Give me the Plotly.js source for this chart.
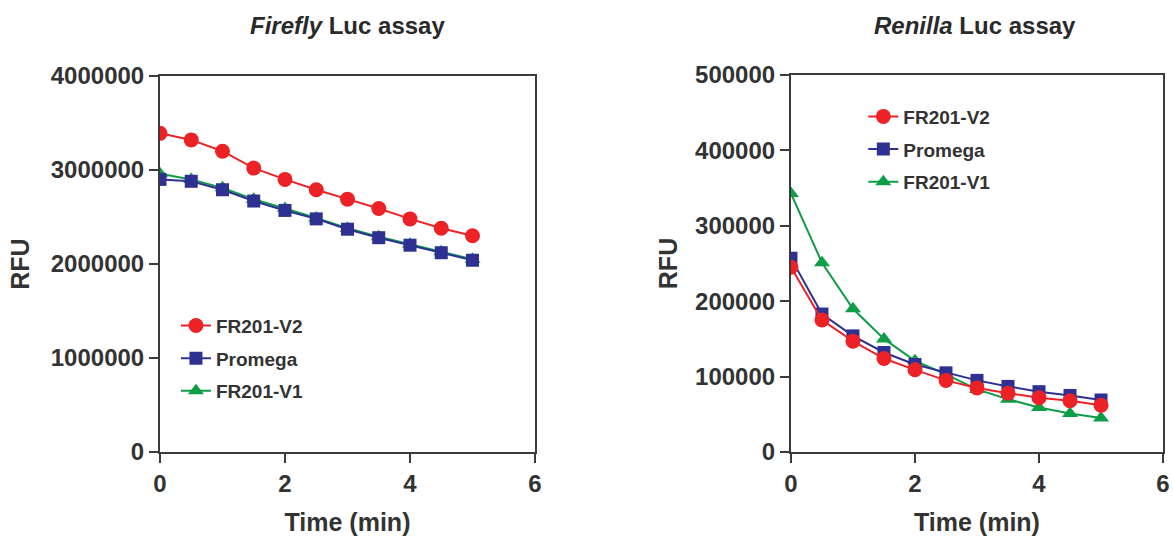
<!DOCTYPE html>
<html>
<head>
<meta charset="utf-8">
<script src="https://cdn.plot.ly/plotly-3.0.1.min.js"></script>
<style>html,body{margin:0;padding:0;background:#fff;}#chart{width:1173px;height:536px;}</style>
</head>
<body>
<div id="chart"></div>
<script>
const time = [0, 0.5, 1, 1.5, 2, 2.5, 3, 3.5, 4, 4.5, 5];
const seriesNames = ["FR201-V2", "Promega", "FR201-V1"];

const fireflyV2 = [3390000, 3320000, 3200000, 3020000, 2900000, 2790000, 2690000, 2590000, 2480000, 2380000, 2300000];
const fireflyPromega = [2900000, 2880000, 2790000, 2670000, 2570000, 2480000, 2370000, 2280000, 2200000, 2120000, 2040000];
const fireflyV1 = [2960000, 2900000, 2810000, 2690000, 2590000, 2490000, 2380000, 2290000, 2210000, 2130000, 2050000];

const renillaV2 = [245000, 175000, 147000, 124000, 109000, 95000, 85000, 78000, 72000, 68000, 62000];
const renillaPromega = [257000, 183000, 154000, 132000, 116000, 105000, 95000, 87000, 80000, 75000, 69000];
const renillaV1 = [343000, 251000, 190000, 150000, 121000, 103000, 83000, 70000, 59000, 51000, 45000];

const xTicks = [0, 2, 4, 6];
const fireflyTicks = [0, 1000000, 2000000, 3000000, 4000000];
const renillaTicks = [0, 100000, 200000, 300000, 400000, 500000];

const red = "#ec2227", blue = "#2e3192", green = "#0f9d48";
const FONT = "Liberation Sans, Arial, sans-serif";

function mk(name, y, color, symbol, size, rank, xa, ya, leg) {
  return {
    x: time, y: y, name: name, type: "scatter", mode: "lines+markers",
    xaxis: xa, yaxis: ya, legend: leg, legendrank: rank, legendgroup: leg + "-" + name,
    line: {color: color, width: 2},
    marker: {color: color, symbol: symbol, size: size, line: {width: 0}}
  };
}

const data = [
  mk(seriesNames[2], fireflyV1, green, "triangle-up", 14, 3, "x", "y", "legend"),
  mk(seriesNames[1], fireflyPromega, blue, "square", 13, 2, "x", "y", "legend"),
  mk(seriesNames[0], fireflyV2, red, "circle", 15, 1, "x", "y", "legend"),
  mk(seriesNames[2], renillaV1, green, "triangle-up", 14, 3, "x2", "y2", "legend2"),
  mk(seriesNames[1], renillaPromega, blue, "square", 13, 2, "x2", "y2", "legend2"),
  mk(seriesNames[0], renillaV2, red, "circle", 15, 1, "x2", "y2", "legend2")
];

const axisCommon = {
  showgrid: false, zeroline: false, showline: true, linecolor: "#3b3b3b", linewidth: 2,
  mirror: true, ticks: "outside", ticklen: 9, tickwidth: 2, tickcolor: "#3b3b3b",
  tickfont: {family: FONT, size: 24, color: "#333", weight: "bold"}
};
const titleFont = {family: FONT, size: 25, color: "#333", weight: "bold"};
const legendCommon = {
  font: {family: FONT, size: 19, color: "#333", weight: "bold"},
  bgcolor: "rgba(0,0,0,0)", traceorder: "grouped", tracegroupgap: 5,
  xanchor: "left", yanchor: "top"
};

const layout = {
  width: 1173, height: 536,
  margin: {l: 0, r: 0, t: 0, b: 0},
  paper_bgcolor: "#fff", plot_bgcolor: "#fff",
  showlegend: true,
  xaxis: Object.assign({}, axisCommon, {domain: [0.1364, 0.4561], range: [0, 6], tickvals: xTicks, anchor: "y",
    title: {text: "Time (min)", font: titleFont}}),
  yaxis: Object.assign({}, axisCommon, {domain: [0.1567, 0.8582], range: [0, 4000000], tickvals: fireflyTicks, tickformat: "d", anchor: "x",
    title: {text: "RFU", font: titleFont, standoff: 14}}),
  xaxis2: Object.assign({}, axisCommon, {domain: [0.6743, 0.9915], range: [0, 6], tickvals: xTicks, anchor: "y2",
    title: {text: "Time (min)", font: titleFont}}),
  yaxis2: Object.assign({}, axisCommon, {domain: [0.1567, 0.8601], range: [0, 500000], tickvals: renillaTicks, tickformat: "d", anchor: "x2",
    title: {text: "RFU", font: titleFont, standoff: 10}}),
  legend: Object.assign({}, legendCommon, {x: 0.150, y: 0.428}),
  legend2: Object.assign({}, legendCommon, {x: 0.736, y: 0.818}),
  annotations: [
    {text: "<i>Firefly</i> Luc assay", xref: "paper", yref: "paper", x: 0.296, y: 0.952, xanchor: "center", yanchor: "middle",
     showarrow: false, font: {family: FONT, size: 24, color: "#2a2a2a", weight: "bold"}},
    {text: "<i>Renilla</i> Luc assay", xref: "paper", yref: "paper", x: 0.831, y: 0.952, xanchor: "center", yanchor: "middle",
     showarrow: false, font: {family: FONT, size: 24, color: "#2a2a2a", weight: "bold"}}
  ]
};

Plotly.newPlot("chart", data, layout, {displayModeBar: false, staticPlot: true});
</script>
</body>
</html>
